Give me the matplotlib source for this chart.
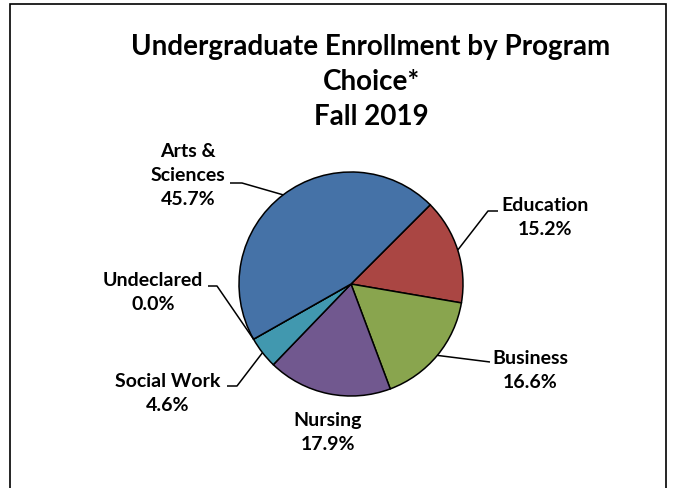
import numpy as np
import matplotlib.pyplot as plt
from matplotlib.patches import Rectangle

# data, clockwise from the 45 degree line
programs = ["Education", "Business", "Nursing", "Social Work", "Undeclared", "Arts &\nSciences"]
shares = [15.2, 16.6, 17.9, 4.6, 0.0, 45.7]
colors = ["#AA4643", "#89A54E", "#71588F", "#4198AF", "#DB843D", "#4572A7"]

title = "Undergraduate Enrollment by Program\nChoice*\nFall 2019"

W, H = 674, 489
plt.rcParams["font.family"] = ["Lato", "DejaVu Sans"]

fig = plt.figure(figsize=(W / 100, H / 100), dpi=100)
ax = fig.add_axes([0, 0, 1, 1])

# chart frame (bottom edge falls outside the picture)
ax.add_patch(Rectangle((10, -20), 656, H - 5 + 20, fill=False, edgecolor="black", linewidth=1.2))

cx, cy, r = 351, H - 285, 112
wedges, _ = ax.pie(shares, colors=colors, startangle=45, counterclock=False,
                   center=(cx, cy), radius=r, frame=True,
                   wedgeprops=dict(edgecolor="black", linewidth=1.1))
ax.set_xlim(0, W)
ax.set_ylim(0, H)
ax.set_aspect("equal")
ax.axis("off")

ax.text(371, H - 82, title, ha="center", va="center", fontsize=20,
        fontweight="bold", linespacing=1.42)

# label layout: (text x, text y, elbow point, end point), in image pixels
layout = {
    "Education": (545, 218, (488, 212), (498, 212)),
    "Business": (530, 371, (490, 363), (490, 363)),
    "Nursing": (328, 433, None, None),
    "Social Work": (168, 394, (237, 387), (227, 387)),
    "Undeclared": (153, 293, (217, 287), (208, 287)),
    "Arts &\nSciences": (188, 176, (242, 184), (230, 184)),
}

for w, name, val in zip(wedges, programs, shares):
    tx, ty, elbow, end = layout[name]
    ax.text(tx, H - ty, f"{name}\n{val:.1f}%", ha="center", va="center",
            fontsize=14, fontweight="bold", linespacing=1.5)
    if elbow is None:
        continue
    ang = np.deg2rad((w.theta1 + w.theta2) / 2)
    ex, ey = cx + r * np.cos(ang), cy + r * np.sin(ang)
    ax.plot([ex, elbow[0], end[0]], [ey, H - elbow[1], H - end[1]],
            color="black", linewidth=1.1, solid_capstyle="butt")

fig.savefig("out.png", dpi=100)
